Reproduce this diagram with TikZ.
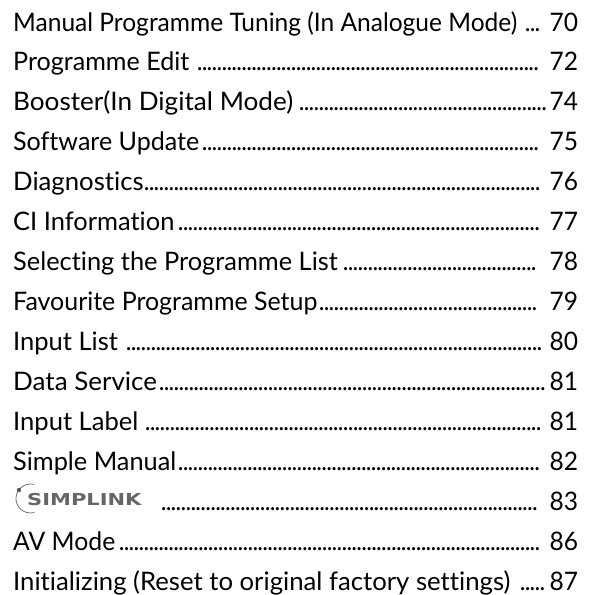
\documentclass[tikz,border=0pt]{standalone}
\usepackage{fontspec}
\setmainfont[Ligatures=NoCommon,FakeStretch=0.962]{Lato}
\newfontfamily\logofont{DejaVu Sans}
\newcommand{\dotrun}[1]{\hbox to #1pt{\leaders\hbox to 4.95pt{\hss.\hss}\hfill}}
\tikzset{x=1pt,y=-1pt,
 entry/.style={anchor=base west,inner sep=0pt,font=\fontsize{25.5}{28}\selectfont,text=black},
 leader/.style={anchor=base west,inner sep=0pt,font=\fontsize{25}{28}\selectfont,text=black},
 pagenum/.style={anchor=base west,inner sep=0pt,font=\fontsize{25.5}{28}\selectfont,text=black},
 logo/.style={anchor=base west,inner sep=0pt,font=\logofont\bfseries\fontsize{16.4}{18}\selectfont,text=black!60}}
\newcommand{\tocrow}[7]{%
 \node[entry] (t#1) at (13,#2) {\scalebox{#7}[1]{#3}};
 \node[leader] (d#1) at (#4,#2) {\dotrun{#5}};
 \node[pagenum] (n#1) at (549.5,#2) {#6};}
\begin{document}
\begin{tikzpicture}
\useasboundingbox (0,0) rectangle (589,595);
\fill[white] (0,0) rectangle (589,595);
\tocrow{a}{31}{Manual Programme Tuning (In Analogue Mode)}{525}{16}{70}{1}
\tocrow{b}{70.9}{Programme Edit}{197}{343}{72}{1.023}
\tocrow{c}{110.9}{Booster(In Digital Mode)}{299}{248}{74}{1.065}
\tocrow{d}{150.8}{Software Update}{202}{338}{75}{1.022}
\tocrow{e}{190.7}{Diagnostics}{144}{396}{76}{1.049}
\tocrow{f}{230.7}{CI Information}{178}{362}{77}{1.039}
\tocrow{g}{270.6}{Selecting the Programme List}{343}{197}{78}{1.035}
\tocrow{h}{310.5}{Favourite Programme Setup}{319}{222}{79}{1.017}
\tocrow{i}{350.4}{Input List}{126}{416}{80}{1.04}
\tocrow{j}{390.4}{Data Service}{159}{388}{81}{1.06}
\tocrow{k}{430.3}{Input Label}{145}{396}{81}{1.042}
\tocrow{l}{470.2}{Simple Manual}{178}{362}{82}{1.032}
\node[logo] (tm) at (27,505) {\scalebox{1.28}[1]{SIMPLINK}};
\draw[black!55,line width=.8pt] (30.5,498.5) ++(-75:14.5) arc (-75:-285:14.5);
\fill[black!65] (19,490) circle (2.2);
\node[leader] (dm) at (161,510.2) {\dotrun{379}};
\node[pagenum] (nm) at (549.5,510.2) {83};
\tocrow{n}{550.1}{AV Mode}{119}{421}{86}{1.01}
\tocrow{o}{590}{Initializing (Reset to original factory settings)}{520}{29}{87}{1.048}
\end{tikzpicture}
\end{document}
